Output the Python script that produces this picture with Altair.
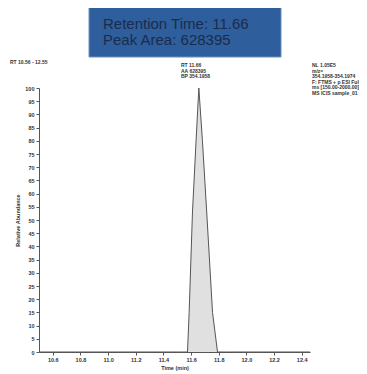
import altair as alt
import pandas as pd

# Chromatogram trace
time_min = [10.50, 11.50, 11.574, 11.586, 11.61, 11.636, 11.656, 11.682, 11.713, 11.755, 11.791, 11.85, 12.46]
rel_abund = [0, 0, 0, 15, 53, 80, 100, 80, 53, 15, 0, 0, 0]

x_ticks = [10.6, 10.8, 11.0, 11.2, 11.4, 11.6, 11.8, 12.0, 12.2, 12.4]
y_ticks = list(range(0, 101, 5))

box_line1 = "Retention Time: 11.66"
box_line2 = "Peak Area: 628395"
range_label = ["RT 10.56 - 12.55"]
peak_lines = ["RT 11.66", "AA 628395", "BP 354.1958"]
info_lines = ["NL 1.05E5", "m/z=", "354.1958-354.1974", "F: FTMS + p ESI Full", "ms [150.00-2000.00]", "MS ICIS sample_01"]

df = pd.DataFrame({"t": time_min, "a": rel_abund})
one = alt.Data(values=[{}])

W, H = 271, 264
FONT = "Liberation Sans"

xs = alt.Scale(domain=[10.5, 12.46], nice=False, zero=False)
ys = alt.Scale(domain=[0, 100], nice=False)

area = alt.Chart(df).mark_area(
    color="#d3d3d3", line={"color": "#555555", "strokeWidth": 1}, clip=True
).encode(
    x=alt.X("t:Q", scale=xs, title="Time (min)",
            axis=alt.Axis(values=x_ticks, format=".1f")),
    y=alt.Y("a:Q", scale=ys, title="Relative Abundance",
            axis=alt.Axis(values=y_ticks)),
)

box = alt.Chart(one).mark_rect(color="#2f5e9c", stroke="#6d8fbf", strokeWidth=1).encode(
    x=alt.value(50), x2=alt.value(242), y=alt.value(-84), y2=alt.value(-31)
)
big = dict(align="left", baseline="alphabetic", fontSize=15, font=FONT, color="#1b2b4d")
box_t1 = alt.Chart(one).mark_text(text=box_line1, **big).encode(x=alt.value(64), y=alt.value(-59))
box_t2 = alt.Chart(one).mark_text(text=box_line2, **big).encode(x=alt.value(64), y=alt.value(-43))

small = dict(align="left", baseline="alphabetic", fontSize=5, font=FONT, color="#333333", fontWeight="bold")
rng = alt.Chart(one).mark_text(text=range_label, **small).encode(x=alt.value(-29), y=alt.value(-24))
peak = alt.Chart(one).mark_text(text=peak_lines, lineHeight=5.5, **small).encode(x=alt.value(142), y=alt.value(-21))
info = alt.Chart(one).mark_text(text=info_lines, lineHeight=5.6, **small).encode(x=alt.value(273), y=alt.value(-21))

chart = alt.layer(area, box, box_t1, box_t2, rng, peak, info).properties(
    width=W, height=H,
    autosize=alt.AutoSizeParams(type="none"),
    padding={"left": 31, "top": 80, "right": 49, "bottom": 20},
).configure_view(stroke=None).configure_axis(
    grid=False, domainColor="#555555", tickColor="#555555", tickSize=3,
    labelFont=FONT, labelFontSize=5.5, labelColor="#333333", labelPadding=2,
    titleFont=FONT, titleFontSize=5.5, titleColor="#333333", titleFontWeight="bold",
    labelFontWeight="bold",
).configure_axisY(titlePadding=4).configure_axisX(titlePadding=3)

chart.save("out.html", embed_options={"renderer": "svg", "actions": False})
